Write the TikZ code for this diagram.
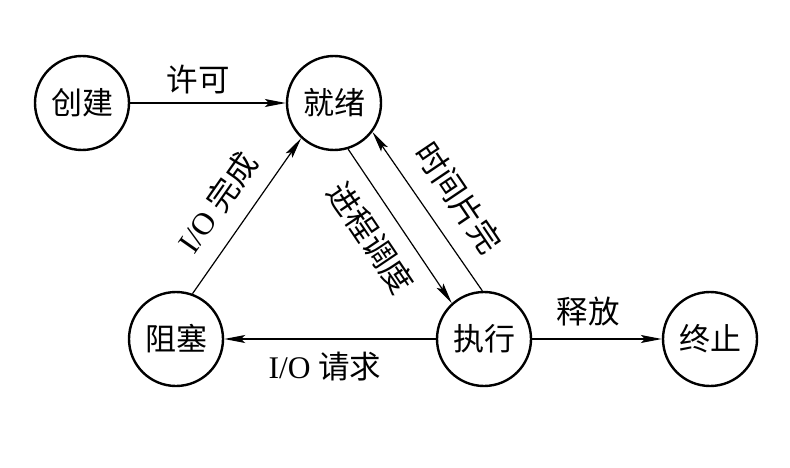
\documentclass[tikz,border=0pt]{standalone}
\usepackage{fontspec}
\setmainfont{Liberation Serif}
\newfontfamily\cjk{Noto Sans CJK SC}
\usetikzlibrary{arrows.meta}
\begin{document}
\begin{tikzpicture}[x=1pt,y=-1pt,
  state/.style={circle, draw, line width=2.4pt, minimum size=94pt, inner sep=0pt,
                font=\cjk\fontsize{31}{31}\selectfont},
  trans/.style={line width=1.2pt, -{Stealth[length=21pt,width=8pt,inset=4pt]}},
  lbl/.style={inner sep=0pt, font=\fontsize{31.5}{31.5}\selectfont}]
\useasboundingbox (0,0) rectangle (790,468);

% process states
\node[state] (create)  at (82,103)  {创建};
\node[state] (ready)   at (334,103) {就绪};
\node[state] (blocked) at (176,339) {阻塞};
\node[state] (run)     at (484,339) {执行};
\node[state] (done)    at (710,339) {终止};

% transitions
\draw[trans] (create) -- (ready);
\draw[trans] (blocked.70) -- (ready.227);
\draw[trans] (ready.-73) -- (run.132);
\draw[trans] (run.92) -- (ready.-37);
\draw[trans] (run) -- (blocked);
\draw[trans] (run) -- (done);

% transition labels
\node[lbl] (lallow)   at (198,80)  {\cjk 许可};
\node[lbl, rotate=55]  (liodone) at (217,202) {I/O {\cjk 完成}};
\node[lbl, rotate=-56] (lsched)  at (371,238) {\cjk 进程调度};
\node[lbl, rotate=-56] (lslice)  at (459,198) {\cjk 时间片完};
\node[lbl] (liorq)    at (325,367) {I/O {\cjk 请求}};
\node[lbl] (lrelease) at (588,312) {\cjk 释放};
\end{tikzpicture}
\end{document}
